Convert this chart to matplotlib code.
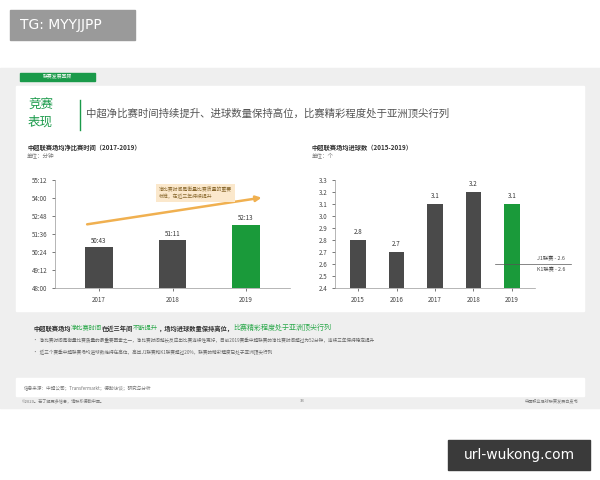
import matplotlib
matplotlib.use("Agg")
import matplotlib.pyplot as plt
from matplotlib.patches import Rectangle, FancyArrowPatch

plt.rcParams['font.family'] = ['Noto Sans CJK SC', 'DejaVu Sans']

years_l = ["2017", "2018", "2019"]
time_sec = [50*60+43, 51*60+11, 52*60+13]
time_labels = ["50:43", "51:11", "52:13"]
yt_l = [48*60 + 72*i for i in range(7)]
yt_l_labels = ["48:00", "49:12", "50:24", "51:36", "52:48", "54:00", "55:12"]

years_r = ["2015", "2016", "2017", "2018", "2019"]
goals = [2.8, 2.7, 3.1, 3.2, 3.1]
ref_val = 2.6
ref_labels = ["J1联赛 - 2.6", "K1联赛 - 2.6"]

W, H = 600, 480
fig = plt.figure(figsize=(6, 4.8), dpi=100)
fig.patch.set_facecolor('white')

def px(x, y, w, h):
    return [x / W, 1 - (y + h) / H, w / W, h / H]

bg = fig.add_axes([0, 0, 1, 1]); bg.set_xlim(0, W); bg.set_ylim(H, 0); bg.axis('off')
bg.add_patch(Rectangle((0, 68), W, 340, color='#efefef'))
bg.add_patch(Rectangle((16, 86), 568, 225, color='white'))
bg.add_patch(Rectangle((16, 378), 568, 18, color='white'))
bg.add_patch(Rectangle((10, 10), 125, 30, color='#9a9a9a'))
bg.text(20, 25, "TG: MYYJJPP", color='white', fontsize=10, va='center', family='DejaVu Sans')
bg.add_patch(Rectangle((448, 440), 142, 30, color='#3a3a3a'))
bg.text(519, 455, "url-wukong.com", color='white', fontsize=10, va='center', ha='center', family='DejaVu Sans')
bg.add_patch(Rectangle((20, 73), 75, 8, color='#1a9a4a'))
bg.text(57, 77, "联赛发展回顾", color='white', fontsize=3.5, va='center', ha='center')
bg.text(28, 105, "竞赛", color='#1a9a4a', fontsize=9, style='italic', va='center')
bg.text(28, 122, "表现", color='#1a9a4a', fontsize=9, style='italic', va='center')
bg.plot([80, 80], [100, 130], color='#1a9a4a', lw=1)
bg.text(86, 113, "中超净比赛时间持续提升、进球数量保持高位，比赛精彩程度处于亚洲顶尖行列",
        color='#555555', fontsize=7.5, style='italic', va='center')
bg.text(27, 150, "中超联赛场均净比赛时间（2017-2019）", fontsize=4.5, fontweight='bold', color='#333')
bg.text(27, 157, "单位：分钟", fontsize=4, color='#777')
bg.text(312, 150, "中超联赛场均进球数（2015-2019）", fontsize=4.5, fontweight='bold', color='#333')
bg.text(312, 157, "单位：个", fontsize=4, color='#777')

parts = [("中超联赛场均", '#333', 'bold', 4.5), ("净比赛时间", '#2aa84a', 'normal', 4.5),
         ("在近三年间", '#333', 'bold', 4.5), ("不断提升", '#2aa84a', 'normal', 4.5),
         ("，场均进球数量保持高位，", '#333', 'bold', 4.5), ("比赛精彩程度处于亚洲顶尖行列", '#2aa84a', 'normal', 5)]
prev = bg.text(33, 332, parts[0][0], color=parts[0][1], fontweight=parts[0][2], fontsize=parts[0][3], va='bottom')
for t, c, w, s in parts[1:]:
    prev = bg.annotate(t, xy=(1, 0), xycoords=prev, va='bottom', ha='left', color=c, fontweight=w, fontsize=s)

bg.text(33, 342, "•  净比赛时间是衡量比赛质量的最重要因素之一，净比赛时间越长反应出比赛连续性更好，目前2019赛季中超联赛的净比赛时间超过为52分钟，连续三年保持稳定提升",
        fontsize=3.3, color='#666')
bg.text(33, 354, "•  近三个赛季中超联赛场均进球数维持在高位，高出J1联赛和K1联赛超过20%，联赛的精彩程度已处于亚洲顶尖行列",
        fontsize=3.3, color='#666')
bg.text(24, 390, "信息来源：中超公司；Transfermarkt；德勤访谈；研究与分析", fontsize=3.3, color='#777')
bg.text(22, 402, "©2020。若了解更多信息，请联系德勤中国。", fontsize=3, color='#777')
bg.text(300, 402, "33", fontsize=3, color='#777')
bg.text(578, 402, "中国职业足球联赛发展白皮书", fontsize=3, color='#777', ha='right')

def style(ax):
    for s in ['top', 'right']:
        ax.spines[s].set_visible(False)
    ax.spines['left'].set_color('#999'); ax.spines['bottom'].set_color('#999')
    ax.tick_params(labelsize=4.5, colors='#444', length=2, width=0.5)
    ax.spines['left'].set_linewidth(0.5); ax.spines['bottom'].set_linewidth(0.5)

ax1 = fig.add_axes(px(55, 180, 235, 108))
ax1.set_facecolor('white')
cols = ['#4a4a4a', '#4a4a4a', '#1a9a3a']
ax1.bar(range(3), time_sec, width=0.38, color=cols, bottom=0)
ax1.set_ylim(yt_l[0], yt_l[-1])
ax1.set_yticks(yt_l); ax1.set_yticklabels(yt_l_labels)
ax1.set_xticks(range(3)); ax1.set_xticklabels(years_l)
ax1.set_xlim(-0.6, 2.6)
for i, (v, t) in enumerate(zip(time_sec, time_labels)):
    ax1.text(i, v + 10, t, ha='center', va='bottom', fontsize=4.5, color='#333')
ax1.add_patch(FancyArrowPatch((-0.2, time_sec[0] + 90), (2.25, time_sec[2] + 110),
                              arrowstyle='-|>', mutation_scale=8, color='#f0b050', lw=1.8))
ax1.text(0.82, 54*60 + 20, "净比赛时间是衡量比赛质量的重要\n标准，在近三年持续提升", fontsize=3.5,
         style='italic', color='#8a6a30', va='center',
         bbox=dict(boxstyle='square,pad=0.6', fc='#fbe8cc', ec='none'))
style(ax1)

ax2 = fig.add_axes(px(335, 180, 200, 108))
ax2.set_facecolor('white')
cols2 = ['#4a4a4a'] * 4 + ['#1a9a3a']
ax2.bar(range(5), goals, width=0.4, color=cols2)
ax2.set_ylim(2.4, 3.3)
ax2.set_yticks([2.4 + 0.1*i for i in range(10)])
ax2.set_yticklabels([f"{2.4 + 0.1*i:.1f}" for i in range(10)])
ax2.set_xticks(range(5)); ax2.set_xticklabels(years_r)
ax2.set_xlim(-0.6, 4.6)
for i, v in enumerate(goals):
    ax2.text(i, v + 0.03, f"{v:.1f}", ha='center', va='bottom', fontsize=4.5, color='#333')
ax2.axhline(ref_val, xmin=0.8, xmax=1.18, color='#555', lw=0.5, clip_on=False)
ax2.text(4.65, ref_val + 0.045, ref_labels[0], fontsize=3.8, ha='left', va='center', color='#444', clip_on=False)
ax2.text(4.65, ref_val - 0.045, ref_labels[1], fontsize=3.8, ha='left', va='center', color='#444', clip_on=False)
style(ax2)

fig.savefig("out.png", dpi=100)
